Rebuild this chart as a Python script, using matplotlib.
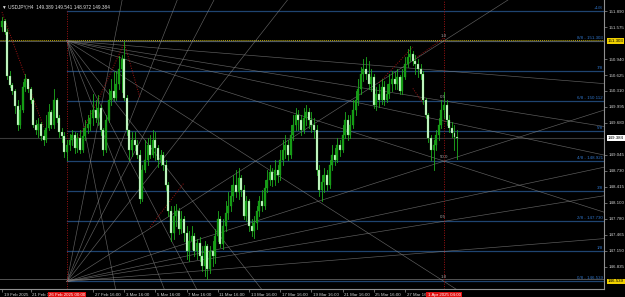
import matplotlib
matplotlib.use("Agg")
import matplotlib.pyplot as plt
import matplotlib.transforms as mtransforms

# ---------------- data (USDJPY H4) ----------------
first_open = 151.58
closes = [151.70, 151.48, 150.60, 150.42, 150.30, 150.02, 149.64, 149.94, 150.38, 150.54,
          150.34, 150.14, 149.64, 149.54, 149.66, 149.42, 149.34, 149.58, 149.90, 149.64,
          150.14, 149.78, 149.50, 149.42, 149.10, 149.24, 149.34, 149.44, 149.18, 149.38,
          149.14, 149.42, 149.58, 149.66, 149.78, 149.94, 149.78, 149.98, 149.54, 149.14,
          149.74, 150.14, 150.30, 150.18, 150.44, 150.74, 150.94, 150.18, 149.54, 149.14,
          149.34, 149.24, 149.04, 148.18, 148.74, 148.94, 149.24, 149.04, 149.34, 149.18,
          148.94, 149.04, 148.84, 148.44, 147.94, 147.50, 147.84, 147.94, 147.58, 147.78,
          147.50, 147.14, 147.34, 147.44, 147.14, 147.30, 147.04, 146.84, 147.24, 146.78,
          147.14, 147.04, 147.44, 147.78, 147.28, 147.64, 147.90, 148.04, 148.24, 148.44,
          148.30, 148.58, 148.34, 147.84, 148.14, 147.64, 147.54, 147.70, 147.94, 148.14,
          148.04, 148.38, 148.54, 148.70, 148.54, 148.74, 148.64, 148.94, 149.14, 149.24,
          149.04, 149.44, 149.64, 149.84, 149.74, 149.54, 149.78, 149.90, 149.74, 149.64,
          149.54, 148.74, 148.34, 148.50, 148.64, 148.44, 148.84, 149.04, 148.94, 149.24,
          149.14, 149.44, 149.74, 149.44, 149.64, 149.94, 150.14, 150.34, 150.64, 150.74,
          150.64, 150.44, 150.58, 150.04, 150.24, 150.14, 150.38, 150.14, 150.24, 150.44,
          150.54, 150.44, 150.58, 150.30, 150.58, 150.84, 150.98, 151.04, 150.90, 150.84,
          150.74, 150.64, 150.14, 149.84, 149.38, 149.14, 149.24, 149.44, 149.64, 149.94,
          150.04, 149.74, 149.58, 149.48, 149.389, 149.384]
highs = [151.78, 151.74, 151.54, 150.70, 150.46, 150.34, 150.14, 150.04, 150.48, 150.64,
         150.50, 150.38, 150.18, 149.74, 149.78, 149.70, 149.54, 149.84, 150.06, 149.94,
         150.34, 150.18, 149.84, 149.58, 149.50, 149.34, 149.46, 149.54, 149.50, 149.48,
         149.54, 149.58, 149.74, 149.84, 149.94, 150.24, 150.14, 150.22, 150.04, 149.58,
         149.84, 150.34, 150.54, 150.68, 150.70, 151.00, 151.02, 151.30, 150.22, 149.54,
         149.50, 149.50, 149.34, 149.14, 148.84, 149.34, 149.38, 149.44, 149.54, 149.50,
         149.24, 149.14, 149.10, 148.94, 148.50, 148.04, 148.04, 148.08, 148.00, 147.94,
         147.84, 147.64, 147.54, 147.64, 147.50, 147.38, 147.42, 147.24, 147.34, 147.28,
         147.24, 147.34, 147.58, 147.94, 147.84, 147.78, 148.14, 148.30, 148.44, 148.64,
         148.74, 148.78, 148.64, 148.44, 148.24, 148.18, 147.78, 147.84, 148.04, 148.24,
         148.34, 148.54, 148.74, 148.84, 148.78, 148.94, 148.84, 149.14, 149.34, 149.44,
         149.34, 149.64, 149.84, 149.98, 149.94, 149.84, 149.98, 150.04, 149.98, 149.90,
         149.78, 149.64, 148.84, 148.64, 148.78, 148.74, 148.94, 149.24, 149.18, 149.38,
         149.34, 149.64, 149.90, 149.84, 149.84, 150.14, 150.30, 150.54, 150.78, 150.94,
         150.98, 150.90, 150.74, 150.64, 150.38, 150.44, 150.54, 150.50, 150.44, 150.64,
         150.70, 150.68, 150.74, 150.62, 150.74, 150.98, 151.14, 151.20, 151.10, 151.02,
         150.94, 150.84, 150.70, 150.18, 149.88, 149.44, 149.34, 149.54, 149.78, 150.14,
         150.28, 150.14, 149.84, 149.70, 149.64, 149.541]
lows = [151.50, 151.44, 150.54, 150.38, 150.24, 149.88, 149.54, 149.58, 149.90, 150.30,
        150.28, 150.08, 149.60, 149.46, 149.40, 149.34, 149.24, 149.30, 149.54, 149.58,
        149.58, 149.70, 149.40, 149.30, 149.00, 148.94, 149.14, 149.24, 149.08, 149.10,
        149.08, 149.10, 149.34, 149.48, 149.54, 149.64, 149.70, 149.64, 149.44, 149.04,
        149.10, 149.70, 150.04, 150.14, 150.14, 150.34, 150.28, 150.14, 149.44, 148.94,
        149.02, 149.14, 148.98, 148.10, 148.14, 148.70, 148.84, 148.98, 149.00, 148.94,
        148.80, 148.84, 148.74, 148.34, 147.84, 147.34, 147.38, 147.64, 147.48, 147.50,
        147.34, 146.98, 146.94, 147.18, 147.04, 146.98, 146.94, 146.74, 146.64, 146.58,
        146.70, 146.84, 146.90, 147.34, 147.22, 147.18, 147.54, 147.78, 147.94, 148.14,
        148.22, 148.18, 148.24, 147.78, 147.74, 147.54, 147.44, 147.40, 147.58, 147.84,
        147.94, 147.98, 148.30, 148.44, 148.42, 148.44, 148.50, 148.54, 148.84, 148.98,
        148.94, 148.98, 149.34, 149.54, 149.54, 149.44, 149.48, 149.64, 149.58, 149.50,
        149.38, 148.64, 148.24, 148.14, 148.30, 148.34, 148.38, 148.74, 148.84, 148.90,
        149.02, 149.10, 149.38, 149.34, 149.38, 149.58, 149.84, 150.04, 150.24, 150.50,
        150.54, 150.34, 150.30, 149.98, 149.94, 150.00, 150.06, 150.04, 150.10, 150.18,
        150.30, 150.34, 150.34, 150.24, 150.24, 150.54, 150.78, 150.90, 150.82, 150.64,
        150.58, 150.54, 150.06, 149.78, 149.30, 148.94, 148.74, 149.14, 149.34, 149.58,
        149.78, 149.64, 149.50, 149.40, 149.14, 148.972]
opens = [first_open] + closes[:-1]

# Murray math levels
murray_prices = [151.899, 151.303, 150.708, 150.112, 149.517, 148.921, 148.326, 147.730, 147.135, 146.539]
murray_labels = ["+1/8", "8/8 - 151.303", "7/8", "6/8 - 150.112", "5/8", "4/8 - 148.921",
                 "3/8", "2/8 - 147.730", "1/8", "0/8 - 146.539"]

# Gann fans (bar, price)
fan_start_bar = 25
fan_end_bar = 170
fan_top = 151.303
fan_bottom = 146.539
fan_ratios = [1/8, 1/4, 1/3, 1/2, 1, 2, 3, 4, 8]

# price axis
ytick_vals = [151.890, 151.575, 150.940, 150.625, 150.310, 149.995, 149.680,
              149.045, 148.730, 148.415, 148.100, 147.780, 147.465, 147.150, 146.835]
# time axis (bar index, label)
time_ticks = [(0, "19 Feb 2025"), (11, "21 Feb 16:00"), (35, "27 Feb 16:00"), (47, "3 Mar 16:00"),
              (59, "5 Mar 16:00"), (71, "7 Mar 16:00"), (83, "11 Mar 16:00"), (95, "13 Mar 16:00"),
              (107, "17 Mar 16:00"), (119, "19 Mar 16:00"), (131, "21 Mar 16:00"),
              (143, "25 Mar 16:00"), (155, "27 Mar 16:00")]
vline_bars = [25, 170]
vline_labels = ["26 Feb 2025 00:00", "1 Apr 2025 04:00"]
grid_labels = [(151.35, "1.0"), (150.16, "0.5"), (148.97, "50.0"), (147.78, "0.5"), (146.59, "1.0")]

# red dotted swing lines (bar, price)
red_paths = [
    [(0, 151.87), (16, 149.60)],
    [(29, 149.34), (37, 150.13), (47, 151.26), (53, 150.19)],
    [(57, 147.62), (70, 148.49)],
    [(145, 150.47), (158, 151.18)],
    [(158, 150.92), (170, 151.36)],
    [(158, 150.36), (162, 150.06)],
]

current_price = 149.384

# ---------------- figure ----------------
FONT = "Liberation Sans"
fig = plt.figure(figsize=(6.25, 2.97), dpi=100, facecolor="black")
ax = fig.add_axes([0, 8 / 297, 604 / 625, 289 / 297])
ax.set_facecolor("black")
ax.set_xlim(-0.77, 231.5)
ax.set_ylim(146.39, 152.11)

xmax = 231.5

# murray lines
for p, lab in zip(murray_prices, murray_labels):
    ax.plot([fan_start_bar, xmax], [p, p], color="#1f4470", lw=0.9, zorder=1)
    ax.text(xmax - 0.5, p + 0.02, lab, color="#2f74c8", fontsize=3.2, family=FONT,
            ha="right", va="bottom", zorder=5)

# full-width lines
ax.plot([-1, xmax], [fan_top + 0.012, fan_top + 0.012], color="#b8a400", lw=0.7,
        ls=(0, (1, 1)), zorder=2)
ax.plot([-1, xmax], [fan_top - 0.012, fan_top - 0.012], color="#606060", lw=0.6, zorder=1)
ax.plot([-1, xmax], [fan_bottom + 0.05, fan_bottom + 0.05], color="#606060", lw=0.6, zorder=1)
ax.plot([-1, xmax], [current_price, current_price], color="#3a3a3a", lw=0.8, zorder=1)

# gann fans
slope = (fan_top - fan_bottom) / (fan_end_bar - fan_start_bar)
far = 400
for r in fan_ratios:
    ax.plot([fan_start_bar, far], [fan_top, fan_top - r * slope * (far - fan_start_bar)],
            color="#8a8a8a", lw=0.45, alpha=0.7, zorder=2)
    ax.plot([fan_start_bar, far], [fan_bottom, fan_bottom + r * slope * (far - fan_start_bar)],
            color="#8a8a8a", lw=0.45, alpha=0.7, zorder=2)

# red dotted lines
for path in red_paths:
    xs = [q[0] for q in path]
    ys = [q[1] for q in path]
    ax.plot(xs, ys, color="#a01414", lw=0.7, ls=(0, (1, 1.5)), zorder=2)
ax.plot([vline_bars[0]] * 2, [146.39, 151.9], color="#a01414", lw=0.7, ls=(0, (1, 1.5)), zorder=2)
ax.plot([vline_bars[1]] * 2, [146.39, 152.11], color="#a01414", lw=0.7, ls=(0, (1, 1.5)), zorder=2)

for p, lab in grid_labels:
    ax.text(vline_bars[1] - 1.5, p, lab, color="#a0a0a0", fontsize=3.2, family=FONT,
            ha="left", va="bottom", zorder=5)

# candles
bull_body, bear_body = "#149a14", "#d2fcd2"
for i, (o, h, l, c) in enumerate(zip(opens, highs, lows, closes)):
    ax.plot([i, i], [l, h], color="#1fae1f", lw=0.6, zorder=3)
    bottom = min(o, c)
    height = max(abs(c - o), 0.006)
    if c >= o:
        ax.bar(i, height, bottom=bottom, width=0.75, color=bull_body, edgecolor="#1fae1f",
               linewidth=0.2, zorder=4)
    else:
        ax.bar(i, height, bottom=bottom, width=0.75, color=bear_body, edgecolor="#40c040",
               linewidth=0.2, zorder=4)

# axes styling
for s in ["top", "left"]:
    ax.spines[s].set_visible(False)
for s in ["right", "bottom"]:
    ax.spines[s].set_color("#909090")
    ax.spines[s].set_linewidth(0.8)
ax.yaxis.tick_right()
ax.set_yticks(ytick_vals)
ax.set_yticklabels([f"{v:.3f}" for v in ytick_vals], fontsize=3.2, color="#d0d0d0", family=FONT)
ax.tick_params(axis="y", length=2, width=0.5, color="#909090", pad=1.5)
ax.set_xticks([t[0] for t in time_ticks])
ax.set_xticklabels([])
ax.tick_params(axis="x", length=2, width=0.5, color="#909090")
trans = mtransforms.blended_transform_factory(ax.transData, ax.transAxes)
for b, lab in time_ticks:
    ax.text(b + 0.6, -0.014, lab, transform=trans, fontsize=3.2, color="#d0d0d0", family=FONT,
            ha="left", va="top", clip_on=False, zorder=1)
for b, lab in zip(vline_bars, vline_labels):
    ax.text(b, -0.014, lab, transform=trans, fontsize=3.2, color="white", family=FONT,
            ha="center", va="top", clip_on=False, zorder=10,
            bbox=dict(boxstyle="square,pad=0.25", facecolor="#e01010", edgecolor="none"))

# price boxes on the axis
ytrans = mtransforms.blended_transform_factory(ax.transAxes, ax.transData)
for p, txt, fc in [(fan_top, "151.303", "#f0d000"), (current_price, "149.384", "white"),
                   (fan_bottom, "146.539", "#f0d000")]:
    ax.text(1.006, p, txt, transform=ytrans, fontsize=3.2, color="black", family=FONT,
            ha="left", va="center", clip_on=False,
            bbox=dict(boxstyle="square,pad=0.2", facecolor=fc, edgecolor="none"))

ax.text(0.004, 0.985, "\u25bc USDJPY,H4  149.389 149.541 148.972 149.384", transform=ax.transAxes,
        fontsize=3.4, color="#e0e0e0", family=["Liberation Sans", "DejaVu Sans"],
        ha="left", va="top")

fig.savefig("out.png", dpi=100, facecolor="black")
